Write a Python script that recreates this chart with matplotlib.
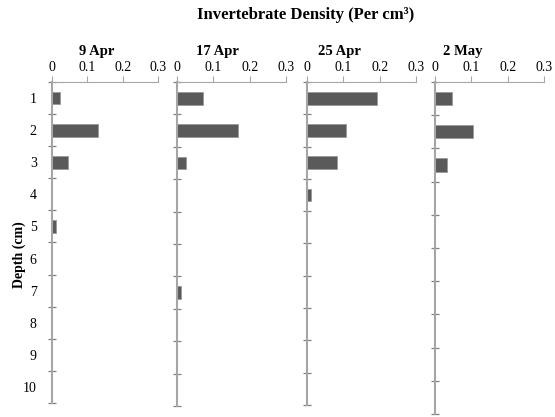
import numpy as np
import matplotlib
matplotlib.use("Agg")
import matplotlib.pyplot as plt

plt.rcParams['font.family'] = ['Liberation Serif', 'DejaVu Serif']

depths = np.arange(1, 11)
dates = ['9 Apr', '17 Apr', '25 Apr', '2 May']
apr09 = [0.023, 0.13, 0.045, 0, 0.011, 0, 0, 0, 0, 0]
apr17 = [0.072, 0.168, 0.025, 0, 0, 0, 0.01, 0, 0, 0]
apr25 = [0.192, 0.107, 0.083, 0.011, 0, 0, 0, 0, 0, 0]
may02 = [0.046, 0.105, 0.033, 0, 0, 0, 0, 0, 0, 0]
xticks = [0, 0.1, 0.2, 0.3]

series = [apr09, apr17, apr25, may02]
# panel boxes [left, bottom, width, height] and title offsets
boxes = [[0.0937, 0.0336, 0.191, 0.7698],
         [0.3189, 0.0264, 0.1973, 0.777],
         [0.5532, 0.0288, 0.1963, 0.7746],
         [0.7838, 0.0072, 0.1964, 0.7962]]
title_x = [0.42, 0.365, 0.30, 0.25]

fig = plt.figure(figsize=(5.55, 4.17), dpi=100)
axis_col = '#a6a6a6'

for i, (vals, box) in enumerate(zip(series, boxes)):
    ax = fig.add_axes(box)
    ax.barh(depths, vals, height=0.4, color='#5a5a5a', edgecolor='#9a9a9a', linewidth=0.6)
    ax.set_xlim(0, 0.3)
    ax.set_ylim(10.5, 0.5)
    ax.xaxis.tick_top()
    ax.set_xticks(xticks)
    ax.set_xticklabels(['0', '0.1', '0.2', '0.3'], fontsize=10)
    ax.tick_params(axis='x', direction='out', length=4, width=0.8, color=axis_col, pad=2)
    ax.set_yticks(depths)
    ax.set_yticks(np.arange(0.5, 11, 1), minor=True)
    ax.tick_params(axis='y', which='major', length=0, pad=11, labelsize=10)
    ax.tick_params(axis='y', which='minor', direction='inout', length=6, width=0.9, color='#808080')
    if i > 0:
        ax.set_yticklabels([])
    for s in ['right', 'bottom']:
        ax.spines[s].set_visible(False)
    ax.spines['left'].set_color(axis_col)
    ax.spines['left'].set_linewidth(1.5)
    ax.spines['top'].set_color(axis_col)
    ax.spines['top'].set_linewidth(0.8)
    ax.text(title_x[i], 1.0 + 30 / (417 * box[3]), dates[i], transform=ax.transAxes,
            ha='center', va='center', fontsize=10.5, fontweight='bold')

fig.text(0.55, 0.965, 'Invertebrate Density (Per cm\u00b3)', ha='center', va='center',
         fontsize=12, fontweight='bold')
fig.text(0.034, 0.39, 'Depth (cm)', rotation=90, ha='center', va='center',
         fontsize=10, fontweight='bold')

fig.savefig('out.png', dpi=100)
